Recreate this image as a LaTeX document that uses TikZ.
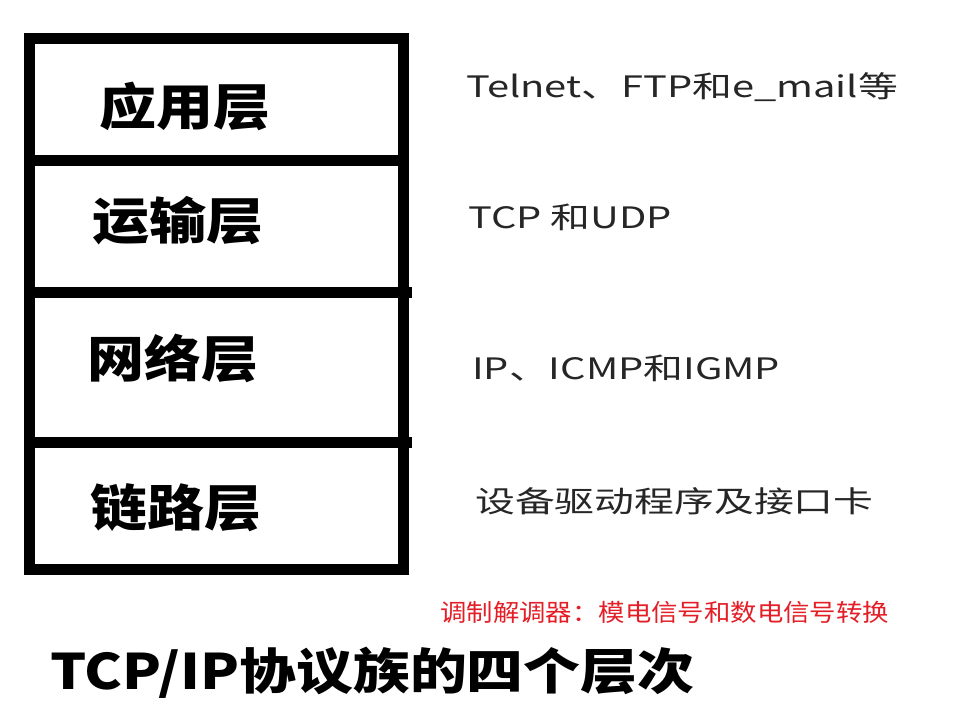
\documentclass[tikz,border=0pt]{standalone}
\usepackage{fontspec}
\setmainfont{Noto Sans CJK SC}
\begin{document}
\begin{tikzpicture}[x=1pt,y=-1pt,
  frame/.style={line width=11pt},
  layer/.style={font=\fontsize{50}{54}\selectfont\bfseries, xscale=1.14, inner sep=0pt},
  proto/.style={font=\fontsize{29.5}{32}\selectfont, xscale=1.35, anchor=west, inner sep=0pt, text=black!85},
  note/.style={font=\fontsize{24}{26}\selectfont, xscale=1.1, anchor=west, inner sep=0pt, text={rgb,255:red,228;green,30;blue,38}},
  title/.style={font=\fontsize{49}{52}\selectfont\bfseries, xscale=1.16, anchor=west, inner sep=0pt}]
\useasboundingbox (0,0) rectangle (979,715);
\fill[white] (0,0) rectangle (979,715);
% frame
\coordinate (tl) at (29,38);
\coordinate (br) at (403,569);
\draw[frame] (tl) rectangle (br);
\coordinate (d1l) at (29,160); \coordinate (d1r) at (403,160);
\coordinate (d2l) at (29,292); \coordinate (d2r) at (412,292);
\coordinate (d3l) at (29,442); \coordinate (d3r) at (412,442);
\draw[frame] (d1l) -- (d1r);
\draw[frame] (d2l) -- (d2r);
\draw[frame] (d3l) -- (d3r);
% layer names
\node[layer] (app) at (185,106) {应用层};
\node[layer] (trans) at (178,221) {运输层};
\node[layer] (net) at (173,358) {网络层};
\node[layer] (link) at (176,508) {链路层};
% protocols
\node[proto] (p1) at (466,87) {Telnet、FTP和e\_mail等};
\node[proto] (p2) at (468,217) {TCP 和UDP};
\node[proto] (p3) at (472,368) {IP、ICMP和IGMP};
\node[proto] (p4) at (475,501) {设备驱动程序及接口卡};
% note
\node[note] (modem) at (440,612) {调制解调器：模电信号和数电信号转换};
% title
\node[title] (ttl) at (50,673) {TCP/IP协议族的四个层次};
\end{tikzpicture}
\end{document}
